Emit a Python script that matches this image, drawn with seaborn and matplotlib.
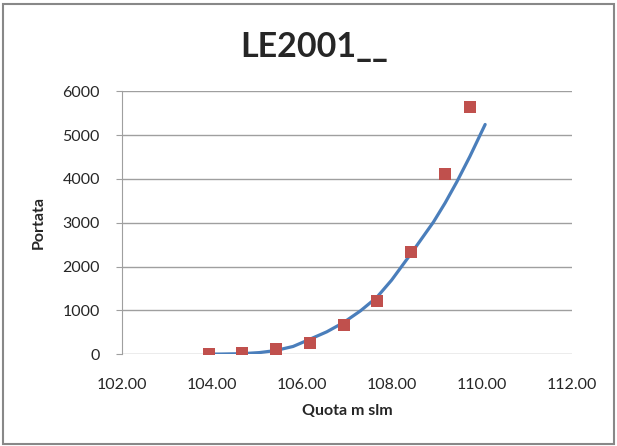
import pandas as pd
import matplotlib.pyplot as plt
from matplotlib.patches import Rectangle
import seaborn as sns

sns.set_style("white")
plt.rcParams['font.family'] = ['Lato', 'DejaVu Sans']

# measured points (quota, portata)
quota = [103.93, 104.67, 105.42, 106.17, 106.93, 107.66, 108.43, 109.17, 109.73]
portata = [0, 20, 107, 258, 668, 1209, 2327, 4122, 5643]

# rating curve
curve_quota = [103.85, 104.20, 104.66, 105.05, 105.40, 105.80, 106.14, 106.55, 106.92,
               107.30, 107.66, 107.99, 108.44, 108.92, 109.18, 109.44, 109.73, 110.07]
curve_portata = [0, 2, 10, 35, 80, 175, 325, 510, 720, 990, 1295, 1690, 2320, 3016,
                 3453, 3934, 4514, 5245]

df_pts = pd.DataFrame({"Quota": quota, "Portata": portata})
df_curve = pd.DataFrame({"Quota": curve_quota, "Portata": curve_portata})

fig = plt.figure(figsize=(6.17, 4.46), dpi=100)
ax = fig.add_axes([0.198, 0.206, 0.729, 0.589])

sns.lineplot(x="Quota", y="Portata", data=df_curve, color="#4A7EBB", linewidth=2.3,
             sort=False, ax=ax, zorder=2)
sns.scatterplot(x="Quota", y="Portata", data=df_pts, marker="s", s=80, color="#C0504D",
                edgecolor="#C0504D", linewidth=0, ax=ax, zorder=3)

ax.set_xlim(102, 112)
ax.set_ylim(0, 6000)
ax.set_xticks([102, 104, 106, 108, 110, 112])
ax.set_xticklabels([f"{v:.2f}" for v in [102, 104, 106, 108, 110, 112]])
ax.set_yticks(range(0, 7000, 1000))
ax.yaxis.grid(True, color="#9f9f9f", linewidth=1)
ax.set_axisbelow(True)
for side in ["top", "right", "bottom"]:
    ax.spines[side].set_visible(False)
ax.spines["left"].set_color("#9f9f9f")
ax.tick_params(axis="y", left=True, length=4, color="#9f9f9f", labelsize=11.5,
               labelcolor="#262626", pad=12)
ax.tick_params(axis="x", bottom=False, labelsize=11.5, labelcolor="#262626", pad=14)

ax.set_title("LE2001__", fontsize=24.5, weight="bold", pad=25, x=0.427)
ax.set_xlabel("Quota m slm", fontsize=11.5, weight="bold", labelpad=8)
ax.set_ylabel("Portata", fontsize=11.5, weight="bold", labelpad=12)

fig.patches.append(Rectangle((0.005, 0.005), 0.99, 0.985, transform=fig.transFigure,
                             fill=False, edgecolor="#888888", linewidth=1.5))

fig.savefig("out.png", dpi=100)
